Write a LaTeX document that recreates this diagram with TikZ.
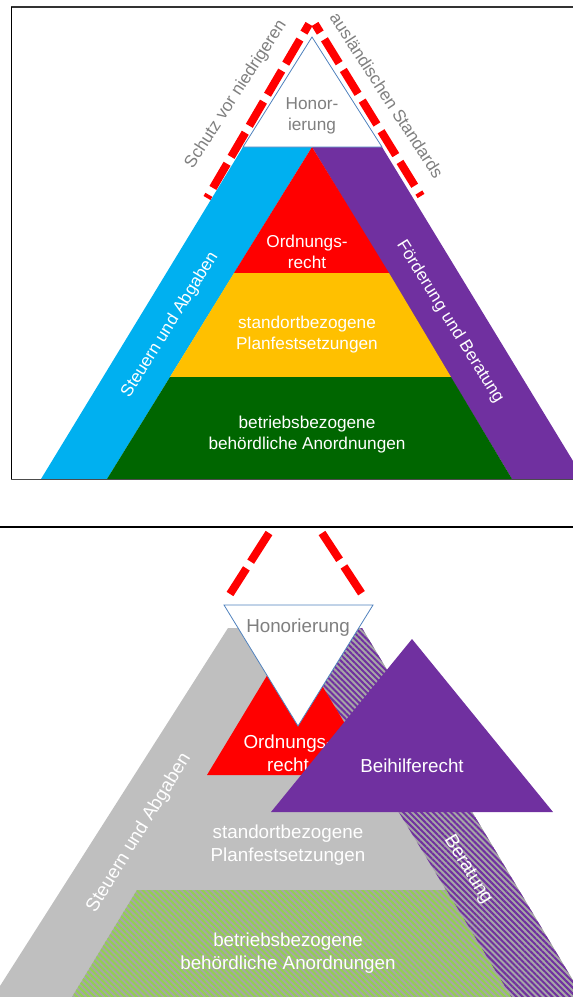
\documentclass[tikz,border=0pt]{standalone}
\usepackage{fontspec}
\setmainfont{Liberation Sans}
\usetikzlibrary{patterns.meta}
\definecolor{cblue}{HTML}{00B0F0}
\definecolor{cpurple}{HTML}{7030A0}
\definecolor{cred}{HTML}{FF0000}
\definecolor{cyellow}{HTML}{FFC000}
\definecolor{cgreen}{HTML}{006600}
\definecolor{cgray}{HTML}{BFBFBF}
\definecolor{chatchbg}{HTML}{A6A6A6}
\definecolor{clgreen}{HTML}{92D050}
\definecolor{ctext}{HTML}{7F7F7F}
\definecolor{coutline}{HTML}{4F81BD}
\tikzset{
  ttop/.style={text=white, font=\fontsize{17.2}{21}\selectfont, align=center, inner sep=0pt},
  tbot/.style={text=white, font=\fontsize{18.8}{23}\selectfont, align=center, inner sep=0pt},
  greytop/.style={ttop, text=ctext},
  greybot/.style={tbot, text=ctext},
  reddash/.style={draw=cred, line width=8pt},
  honbox/.style={fill=white, draw=coutline, line width=0.8pt},
  hatchpurple/.style={pattern={Lines[angle=-45,distance=4.2pt,line width=2pt]}, pattern color=cpurple},
  hatchgreen/.style={pattern={Lines[angle=-45,distance=4.2pt,line width=2pt]}, pattern color=clgreen},
}
\begin{document}
\begin{tikzpicture}[x=1pt,y=-1pt]
\useasboundingbox (0,0) rectangle (573,997);
\clip (0,0) rectangle (573,997);
% ---------- top panel ----------
\fill[cblue] (243,147) -- (312,147) -- (107,479) -- (41,479) -- cycle;
\fill[cpurple] (312,147) -- (382,147) -- (584,479) -- (512,479) -- cycle;
\fill[cred] (312,147) -- (389,273) -- (234,273) -- cycle;
\fill[cyellow] (234,273) -- (389,273) -- (451,377) -- (170,377) -- cycle;
\fill[cgreen] (170,377) -- (451,377) -- (512,479) -- (107,479) -- cycle;
\filldraw[honbox] (312,37) -- (382,147) -- (243,147) -- cycle;
\draw[reddash, dash pattern=on 28pt off 8pt, dash phase=18pt] (309,24) -- (207,198);
\draw[reddash, dash pattern=on 28pt off 8pt, dash phase=18pt] (315,24) -- (421,196);
\node[greytop] (hon) at (312,116) {Honor-\\ierung};
\node[ttop] (ord) at (307,252) {Ordnungs-\\recht};
\node[ttop] (sto) at (307,335) {standortbezogene\\Planfestsetzungen};
\node[ttop] (bet) at (307,435) {betriebsbezogene\\behördliche Anordnungen};
\node[ttop, rotate=58] (steu) at (170,325) {Steuern und Abgaben};
\node[ttop, rotate=-58] (foe) at (450,322) {Förderung und Beratung};
\node[greytop, rotate=57] (schutz) at (236,94.5) {Schutz vor niedrigeren};
\node[greytop, rotate=-57] (ausl) at (387,95.5) {ausländischen Standards};
\draw[draw=black!80, line width=1.3pt] (11,7) -- (580,7);
\draw[draw=black, line width=1pt] (11,7) -- (11,479);
\draw[draw=black!70, line width=1pt] (11,479) -- (580,479);
% ---------- separator ----------
\draw[draw=black, line width=1.2pt] (0,527) -- (573,527);
% ---------- bottom panel ----------
\fill[cgray] (228,628) -- (362,628) -- (583,997) -- (-7,997) -- cycle;
\fill[chatchbg] (287,628) -- (362,628) -- (583,997) -- (511,997) -- cycle;
\fill[hatchpurple] (287,628) -- (362,628) -- (583,997) -- (511,997) -- cycle;
\fill[chatchbg] (137,890) -- (446,890) -- (511,997) -- (72,997) -- cycle;
\fill[hatchgreen] (137,890) -- (446,890) -- (511,997) -- (72,997) -- cycle;
\fill[cred] (291.5,635) -- (376,775) -- (207,775) -- cycle;
\node[tbot] (ord2) at (288,753) {Ordnungs-\\recht};
\fill[cpurple] (412,639) -- (553,812) -- (271,812) -- cycle;
\node[tbot] (bei) at (412,766) {Beihilferecht};
\node[tbot] (sto2) at (288,845) {standortbezogene\\Planfestsetzungen};
\node[tbot] (bet2) at (288,953) {betriebsbezogene\\behördliche Anordnungen};
\node[tbot, rotate=58.5] (steu2) at (139,833) {Steuern und Abgaben};
\node[tbot, rotate=-58.5] (ber) at (468,870) {Beratung};
\filldraw[honbox] (224,605) -- (373,605) -- (298,726) -- cycle;
\node[greybot] (hon2) at (298,628) {Honorierung};
\draw[reddash, dash pattern=on 34pt off 8pt] (269,533) -- (230,594);
\draw[reddash, dash pattern=on 32pt off 8pt] (322,533) -- (362,594);
\end{tikzpicture}
\end{document}
